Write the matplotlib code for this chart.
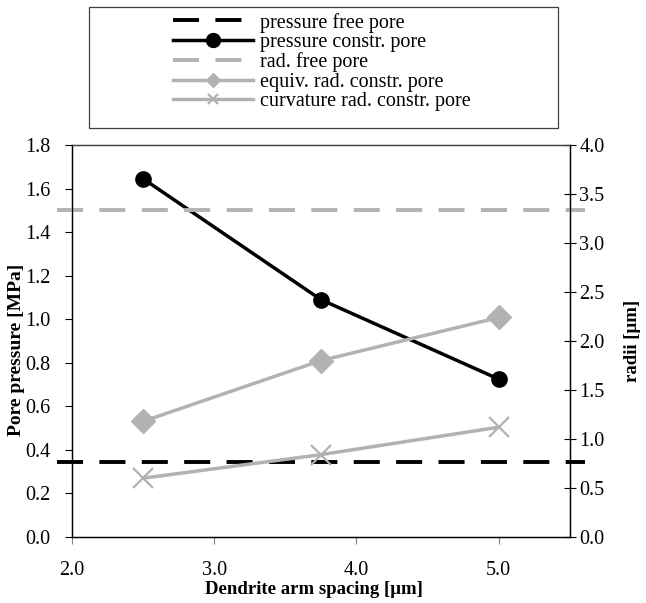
"""Pore pressure and pore radii vs dendrite arm spacing (twin-axis chart)."""

import matplotlib
matplotlib.use("Agg")
import matplotlib.pyplot as plt
from matplotlib.patches import Rectangle
from matplotlib.ticker import FormatStrFormatter, MultipleLocator

# data
das = [2.5, 3.75, 5.0]                 # dendrite arm spacing [um]
p_constr = [1.645, 1.09, 0.725]        # pressure constr. pore [MPa]
r_equiv = [1.18, 1.80, 2.24]           # equiv. rad. constr. pore [um]
r_curv = [0.60, 0.84, 1.12]            # curvature rad. constr. pore [um]
p_free = 0.344                         # pressure free pore [MPa]
r_free = 3.335                         # rad. free pore [um]

labels = ["pressure free pore", "pressure constr. pore", "rad. free pore",
          "equiv. rad. constr. pore", "curvature rad. constr. pore"]

GREY = "#b2b2b2"
DASH = (6.7, 4.2)

plt.rcParams["font.family"] = ["Liberation Serif", "DejaVu Serif"]

fig = plt.figure(figsize=(6.46, 6.03), dpi=100)
ax = fig.add_axes([0.1115, 0.1095, 0.7705, 0.65])
ax2 = ax.twinx()

# horizontal reference lines run a little past both spines, like the original
h_free_p, = ax.plot([-0.03, 1.03], [p_free, p_free], transform=ax.get_yaxis_transform(),
                    color="black", lw=2.8, dashes=DASH, clip_on=False)
h_constr, = ax.plot(das, p_constr, color="black", lw=2.5, marker="o", ms=11)

h_free_r, = ax2.plot([-0.03, 1.03], [r_free, r_free], transform=ax2.get_yaxis_transform(),
                     color=GREY, lw=2.8, dashes=DASH, clip_on=False)
h_equiv, = ax2.plot(das, r_equiv, color=GREY, lw=2.5, marker="D", ms=12.5, mec=GREY)
h_curv, = ax2.plot(das, r_curv, color=GREY, lw=2.5, marker="x", ms=14, mew=1.6)

ax.set_xlim(2.0, 5.5)
ax.set_ylim(0.0, 1.8)
ax2.set_ylim(0.0, 4.0)
ax.xaxis.set_major_locator(MultipleLocator(1.0))
ax.yaxis.set_major_locator(MultipleLocator(0.2))
ax2.yaxis.set_major_locator(MultipleLocator(0.5))
for a in (ax.xaxis, ax.yaxis, ax2.yaxis):
    a.set_major_formatter(FormatStrFormatter("%.1f"))

ax.tick_params(axis="x", direction="out", length=5, width=0.8, color="#808080",
               pad=12, labelsize=14.5)
ax.tick_params(axis="y", direction="out", length=5, width=0.8, pad=10.5, labelsize=14.5)
ax2.tick_params(axis="y", direction="inout", length=8, width=0.8, pad=3, labelsize=14.5)

for a in (ax, ax2):
    for side in ("left", "right", "bottom"):
        a.spines[side].set_linewidth(0.9)
    a.spines["top"].set_color("#404040")
    a.spines["top"].set_linewidth(0.9)

lab_kw = dict(fontsize=13.5, fontweight="bold")
ax.set_xlabel("Dendrite arm spacing [μm]", **lab_kw)
ax.set_ylabel("Pore pressure [MPa]", fontsize=14, fontweight="bold")
ax2.set_ylabel("radii [μm]", rotation=90, **lab_kw)
ax.xaxis.set_label_coords(0.486, -0.135)
ax.xaxis.label.set_va("center")
ax.yaxis.set_label_coords(-0.112, 0.477)
ax.yaxis.label.set_va("center")
ax2.yaxis.set_label_coords(1.127, 0.5)
ax2.yaxis.label.set_va("center")

# legend sits in its own box above the plot area
fig.patches.append(Rectangle((89 / 646, 1 - 128 / 603), 469 / 646, 121 / 603,
                             transform=fig.transFigure, fill=False,
                             ec="#404040", lw=0.9))
leg = fig.legend([h_free_p, h_constr, h_free_r, h_equiv, h_curv], labels,
                 loc="center", bbox_to_anchor=(322 / 646, 1 - 62 / 603),
                 frameon=False, fontsize=14.5, handlelength=4.0,
                 handletextpad=0.35, labelspacing=0.02, borderpad=0)
for h, ms in zip(leg.legend_handles, [0, 10, 0, 7, 7]):
    if ms:
        h.set_markersize(ms)

fig.savefig("out.png", dpi=100)
